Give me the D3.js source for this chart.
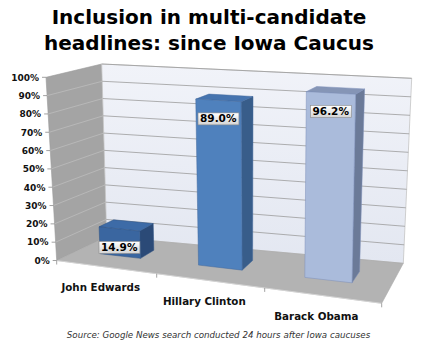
<!DOCTYPE html>
<html><head><meta charset="utf-8">
<script src="https://cdn.jsdelivr.net/npm/d3@7"></script>
<style>body{margin:0;background:#fff} svg{display:block}</style>
</head><body><svg id="c" width="425" height="350"></svg>
<script>
// ---------------- data ----------------
const titleLines = ["Inclusion in multi-candidate", "headlines: since Iowa Caucus"];
const categories = ["John Edwards", "Hillary Clinton", "Barack Obama"];
const values = [14.9, 89.0, 96.2];
const yTicks = [0, 10, 20, 30, 40, 50, 60, 70, 80, 90, 100];
const sourceNote = "Source: Google News search conducted 24 hours after Iowa caucuses";

// ---------------- styles ----------------
const barFront = ["#3a66a0", "#4f81bd", "#aabbdb"];
const barTop   = ["#3d6ba7", "#4674af", "#8595b6"];
const barSide  = ["#2b4a77", "#385d8a", "#6b7a98"];
const barEdge  = ["#2e5283", "#43699c", "#7d8fb8"];

const svg = d3.select("#c");
const defs = svg.append("defs");

// ---------------- 3D frame (perspective-ish trilinear projection) ----------------
const C = {
  "000": [56.7, 260.5], "010": [46, 77.3], "001": [106.7, 236.7], "011": [101.7, 64],
  "100": [381.7, 303.3], "110": [385, 96], "101": [403.3, 263.3], "111": [411.7, 78.3]
};
const K = 1.125; // far-side foreshortening along category axis
const nCat = categories.length;
function proj(X, Y, Z) {
  const s = X / nCat;
  const t = s / (s + K * (1 - s));
  let x = 0, y = 0;
  for (const a of [0, 1]) for (const b of [0, 1]) for (const c of [0, 1]) {
    const w = (a ? t : 1 - t) * (b ? Y : 1 - Y) * (c ? Z : 1 - Z);
    const p = C["" + a + b + c];
    x += w * p[0]; y += w * p[1];
  }
  return [x, y];
}

const xScale = d3.scaleBand().domain(categories).range([-0.04, nCat - 0.04])
  .paddingInner(0.58).paddingOuter(0.29);
const xBound = d3.scaleLinear().domain([0, nCat]).range([0, nCat]);
const yScale = d3.scaleLinear().domain([0, 100]).range([0, 1]);
const zFront = 0.4, zBack = 0.7;

const poly = pts => "M" + pts.map(p => proj(...p).map(v => v.toFixed(2)).join(",")).join("L") + "Z";

// gradients
const gBack = defs.append("linearGradient").attr("id", "gBack").attr("x1", 0).attr("y1", 0).attr("x2", 0).attr("y2", 1);
gBack.append("stop").attr("offset", 0).attr("stop-color", "#f1f3f9");
gBack.append("stop").attr("offset", 1).attr("stop-color", "#e3e7f1");
const gLab = defs.append("linearGradient").attr("id", "gLab").attr("x1", 0).attr("y1", 0).attr("x2", 0).attr("y2", 1);
gLab.append("stop").attr("offset", 0).attr("stop-color", "#ffffff");
gLab.append("stop").attr("offset", 1).attr("stop-color", "#d4d4d4");

const chart = svg.append("g");
const yTop = yScale.range()[1];

// left wall
chart.append("path").attr("d", poly([[0, 0, 0], [0, yTop, 0], [0, yTop, 1], [0, 0, 1]]))
  .attr("fill", "#a4a4a4").attr("stroke", "#9a9a9a").attr("stroke-width", 0.6);
// back wall
chart.append("path").attr("d", poly([[0, 0, 1], [0, yTop, 1], [nCat, yTop, 1], [nCat, 0, 1]]))
  .attr("fill", "url(#gBack)").attr("stroke", "#c4c4c4").attr("stroke-width", 0.8);
// floor
chart.append("path").attr("d", poly([[0, 0, 0], [0, 0, 1], [nCat, 0, 1], [nCat, 0, 0]]))
  .attr("fill", "#b3b3b3").attr("stroke", "#a8a8a8").attr("stroke-width", 0.6);

// gridlines
const line = (a, b) => { const p = proj(...a), q = proj(...b); return `M${p[0]},${p[1]}L${q[0]},${q[1]}`; };
chart.append("g").selectAll("path").data(yTicks.filter(d => d > 0)).join("path")
  .attr("d", d => line([0, yScale(d), 1], [nCat, yScale(d), 1]))
  .attr("stroke", "#9c9c9c").attr("stroke-width", 0.8).attr("fill", "none");
chart.append("g").selectAll("path").data(yTicks.filter(d => d > 0 && d < 100)).join("path")
  .attr("d", d => line([0, yScale(d), 0], [0, yScale(d), 1]))
  .attr("stroke", "#bcbcbc").attr("stroke-width", 0.8).attr("fill", "none");

// value axis ticks and labels
const yAx = chart.append("g");
yAx.selectAll("path").data(yTicks).join("path")
  .attr("d", d => { const p = proj(0, yScale(d), 0); return `M${p[0] - 4},${p[1]}L${p[0]},${p[1]}`; })
  .attr("stroke", "#8a8a8a").attr("stroke-width", 0.8);
yAx.selectAll("text").data(yTicks).join("text")
  .attr("x", d => proj(0, yScale(d), 0)[0] - 7)
  .attr("y", d => proj(0, yScale(d), 0)[1] + 3.3)
  .attr("text-anchor", "end")
  .attr("font-family", "DejaVu Sans, Verdana, sans-serif").attr("font-weight", "bold")
  .attr("font-size", 9).attr("fill", "#111")
  .text(d => d + "%");

// category axis line + ticks
chart.append("path").attr("d", line([0, 0, 0], [nCat, 0, 0])).attr("stroke", "#d8d8d8").attr("stroke-width", 0.8);
chart.append("g").selectAll("path").data(d3.range(nCat + 1)).join("path")
  .attr("d", d => { const p = proj(xBound(d), 0, 0); return `M${p[0]},${p[1]}L${p[0]},${p[1] + 4}`; })
  .attr("stroke", "#8a8a8a").attr("stroke-width", 0.8);

// bars
const bars = chart.append("g").selectAll("g").data(values).join("g");
bars.each(function (v, i) {
  const g = d3.select(this);
  const X0 = xScale(categories[i]), X1 = X0 + xScale.bandwidth(), Y1 = yScale(v);
  g.append("path").attr("d", poly([[X1, 0, zFront], [X1, 0, zBack], [X1, Y1, zBack], [X1, Y1, zFront]]))
    .attr("fill", barSide[i]).attr("stroke", barEdge[i]).attr("stroke-width", 0.5);
  g.append("path").attr("d", poly([[X0, Y1, zFront], [X1, Y1, zFront], [X1, Y1, zBack], [X0, Y1, zBack]]))
    .attr("fill", barTop[i]).attr("stroke", barEdge[i]).attr("stroke-width", 0.5);
  g.append("path").attr("d", poly([[X0, 0, zFront], [X1, 0, zFront], [X1, Y1, zFront], [X0, Y1, zFront]]))
    .attr("fill", barFront[i]).attr("stroke", barEdge[i]).attr("stroke-width", 0.5);
});

// data labels
const labs = chart.append("g").selectAll("g").data(values).join("g");
labs.each(function (v, i) {
  const g = d3.select(this);
  const Xc = xScale(categories[i]) + xScale.bandwidth() / 2;
  const p = proj(Xc, yScale(v), zFront);
  const t = g.append("text").attr("x", p[0]).attr("y", p[1] + 22)
    .attr("text-anchor", "middle")
    .attr("font-family", "DejaVu Sans, Verdana, sans-serif").attr("font-weight", "bold")
    .attr("font-size", 10.5).attr("fill", "#000")
    .text(d3.format(".1f")(v) + "%");
  const bb = t.node().getBBox();
  g.insert("rect", "text").attr("x", bb.x - 2).attr("y", p[1] + 12.5).attr("width", bb.width + 4).attr("height", 12)
    .attr("fill", "url(#gLab)").attr("stroke", "#8c8c8c").attr("stroke-width", 0.6);
});

// category labels
chart.append("g").selectAll("text").data(categories).join("text")
  .attr("x", d => proj(xScale(d) + xScale.bandwidth() / 2, 0, 0)[0] - 1)
  .attr("y", d => proj(xScale(d) + xScale.bandwidth() / 2, 0, 0)[1] + 25)
  .attr("text-anchor", "middle")
  .attr("font-family", "DejaVu Sans, Verdana, sans-serif").attr("font-weight", "bold")
  .attr("font-size", 10.3).attr("fill", "#111")
  .text(d => d);

// title
svg.append("g").selectAll("text").data(titleLines).join("text")
  .attr("x", 209).attr("y", (d, i) => 23.5 + i * 26)
  .attr("text-anchor", "middle")
  .attr("font-family", "DejaVu Sans, Verdana, sans-serif").attr("font-weight", "bold")
  .attr("font-size", 20).attr("fill", "#000")
  .text(d => d);

// source note
svg.append("text").attr("x", 218.5).attr("y", 338)
  .attr("text-anchor", "middle")
  .attr("font-family", "DejaVu Sans, Verdana, sans-serif").attr("font-style", "italic")
  .attr("font-size", 8.7).attr("fill", "#333")
  .text(sourceNote);
</script></body></html>
